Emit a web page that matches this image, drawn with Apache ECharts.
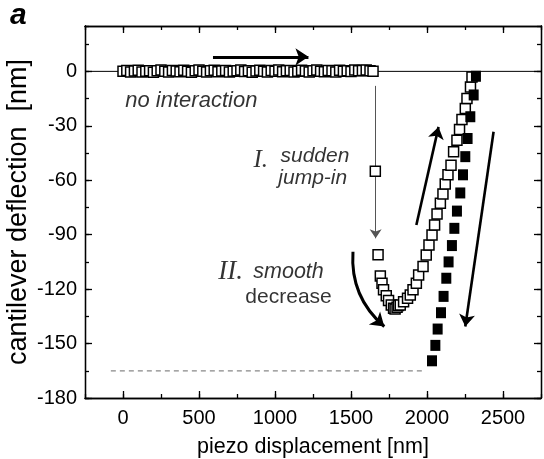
<!DOCTYPE html>
<html><head><meta charset="utf-8">
<script src="https://cdn.jsdelivr.net/npm/echarts@6/dist/echarts.min.js"></script>
<style>html,body{margin:0;padding:0;background:#fff}#c{width:544px;height:459px}</style>
</head><body><div id="c"></div>
<script>
// ---- data ----
const xRange = [-250, 2750];
const yRange = [-180, 25];
const xTickLabels = [0, 500, 1000, 1500, 2000, 2500];
const yTickLabels = [-180, -150, -120, -90, -60, -30, 0];

const approachFlatX = [0,25,50,75,100,125,150,175,200,225,250,275,300,325,350,375,400,425,450,475,500,525,550,575,600,625,650,675,700,725,750,775,800,825,850,875,900,925,950,975,1000,1025,1050,1075,1100,1125,1150,1175,1200,1225,1250,1275,1300,1325,1350,1375,1400,1425,1450,1475,1500,1525,1550,1575,1600,1625,1645];
const approachFlatY = [0,0.5,-0.4,0.2,0.6,-0.3,0,0.4,-0.5,0.3,0.7,0,-0.4,0.5,0.2,-0.2,0.6,0.1,-0.5,0.3,0.8,0,-0.3,0.4,0.6,-0.2,0.2,0.5,-0.4,0,0.3,0.7,-0.1,0.4,-0.5,0.2,0.6,0,-0.3,0.5,0.1,0.8,-0.2,0.3,0.5,-0.4,0,0.6,0.2,-0.3,0.4,0.7,0,-0.2,0.5,0.3,-0.4,0.6,0.1,0.4,-0.1,0.7,0.3,0.5,0.8,0.4,0];
const approachContactX = [1660,1678,1693,1704,1714,1732,1747,1765,1780,1790,1803,1812,1824,1846,1872,1890,1908,1930,1945,1974,1995,2013,2033,2050,2066,2088,2105,2120,2138,2158,2175,2197,2214,2230,2252,2263,2286,2296];
const approachContactY = [-55,-101,-112.7,-116.7,-120.4,-123.7,-126.3,-128.7,-130.5,-131,-130,-129,-128.7,-126.9,-125,-123.2,-120.4,-116.7,-112.2,-107.6,-101.2,-95.7,-90.2,-84.7,-78.6,-72.7,-67.6,-62.1,-57,-51.7,-44.3,-37.9,-32,-26.5,-20.5,-15,-8.6,-3.1];
const retractX = [2322,2307,2285,2267,2252,2237,2219,2197,2180,2164,2142,2127,2109,2092,2070,2055,2033];
const retractY = [-2.7,-13,-25,-37,-47,-57,-67,-77,-86.5,-96,-105,-114,-124,-133,-142,-151,-159.5];

const zeroLine = [[-250,0],[2750,0]];
const dashedLine = [[-80,-165],[1990,-165]];
const arrowTop = [[592,8],[1220,8]];
const arrowJump = [[1662,-8],[1662,-92]];
const arrowUp = [[1930,-84.7],[2076,-30.6]];
const arrowDown = [[2438,-33.3],[2252,-140.6]];
const arrowCurve = [[1513,-99.4],[1719,-140.6]];

const SANS = '"Liberation Sans", Arial, sans-serif';
const SERIF = '"Liberation Serif", "Times New Roman", serif';
const notes = [
  {text:'no interaction', x:15, y:-16, style:'italic', size:22, family:SANS},
  {text:'I.', x:858, y:-49, style:'italic', size:25, family:SERIF},
  {text:'sudden', x:1036, y:-46.5, style:'italic', size:21, family:SANS},
  {text:'jump-in', x:1022, y:-59, style:'italic', size:21, family:SANS},
  {text:'II.', x:627, y:-110.5, style:'italic', size:27, family:SERIF},
  {text:'smooth', x:857, y:-110.5, style:'italic', size:21.5, family:SANS},
  {text:'decrease', x:805, y:-124.5, style:'normal', size:21, family:SANS}
];

// ---- chart ----
const zip = (a, b) => a.map((v, i) => [v, b[i]]);
const chart = echarts.init(document.getElementById('c'), null, {renderer: 'canvas'});

function baseAxis(pos, range, major, tickVals, interval) {
  const o = {
    type: 'value', position: pos, min: range[0], max: range[1], interval: interval,
    splitLine: {show: false},
    axisLine: {show: true, onZero: false, lineStyle: {color: '#000', width: 1.3}},
    axisTick: {show: true, inside: true, length: major ? 7 : 4, lineStyle: {color: '#000', width: 1.3}},
    axisLabel: {show: false}
  };
  if (major) o.axisTick.customValues = tickVals;
  return o;
}
const xMain = baseAxis('bottom', xRange, true, xTickLabels, 250);
xMain.axisLabel = {show: true, customValues: xTickLabels, formatter: v => String(v), color: '#000', fontSize: 20, fontFamily: SANS, margin: 10};
xMain.name = 'piezo displacement [nm]';
xMain.nameLocation = 'middle';
xMain.nameGap = 38;
xMain.nameMoveOverlap = false;
xMain.nameTextStyle = {fontSize: 21.5, color: '#000', fontFamily: SANS};

const yMain = baseAxis('left', yRange, true, yTickLabels, 30);
yMain.axisLabel = {show: true, customValues: yTickLabels, formatter: v => String(v), color: '#000', fontSize: 20, fontFamily: SANS, margin: 8};
yMain.name = 'cantilever deflection  [nm]';
yMain.nameLocation = 'middle';
yMain.nameGap = 53;
yMain.nameMoveOverlap = false;
yMain.nameTextStyle = {fontSize: 27, color: '#000', fontFamily: SANS};

function arrowSeries(coords, width, color, size, curveness) {
  return {
    type: 'lines', coordinateSystem: 'cartesian2d', xAxisIndex: 0, yAxisIndex: 0,
    symbol: ['none', 'arrow'], symbolSize: size, silent: true, z: 3,
    lineStyle: {color: color, width: width, opacity: 1, curveness: curveness || 0},
    data: [{coords: coords}]
  };
}

const option = {
  animation: false,
  backgroundColor: '#fff',
  grid: {left: 85, right: 3, top: 26, bottom: 61, containLabel: false, outerBoundsMode: 'none'},
  graphic: [{type: 'text', left: 10, top: 1, style: {text: 'a', font: 'italic bold 30px "Liberation Sans", Arial, sans-serif', fill: '#000'}}],
  xAxis: [xMain, baseAxis('bottom', xRange, false, null, 250), baseAxis('top', xRange, true, xTickLabels, 250), baseAxis('top', xRange, false, null, 250)],
  yAxis: [yMain, baseAxis('left', yRange, false, null, 15), baseAxis('right', yRange, true, yTickLabels, 30), baseAxis('right', yRange, false, null, 15)],
  series: [
    {type: 'line', data: zeroLine, symbol: 'none', silent: true, z: 1, lineStyle: {color: '#000', width: 1}},
    {type: 'line', data: dashedLine, symbol: 'none', silent: true, z: 1, lineStyle: {color: '#888', width: 1.2, type: [5, 4]}},
    arrowSeries(arrowJump, 1, '#555', [0, 9], 0),
    arrowSeries(arrowTop, 3, '#000', [0, 13], 0),
    arrowSeries(arrowUp, 2.6, '#000', [0, 12], 0),
    arrowSeries(arrowDown, 2.6, '#000', [0, 12], 0),
    arrowSeries(arrowCurve, 3, '#000', [0, 13], -0.25),
    {type: 'scatter', symbol: 'rect', symbolSize: 10, silent: true, z: 4,
     itemStyle: {color: '#fff', borderColor: '#000', borderWidth: 1.5, opacity: 1},
     data: zip(approachFlatX, approachFlatY).concat(zip(approachContactX, approachContactY))},
    {type: 'scatter', symbol: 'rect', symbolSize: [10, 11], silent: true, z: 5,
     itemStyle: {color: '#000', opacity: 1},
     data: zip(retractX, retractY)},
    {type: 'scatter', symbolSize: 0, silent: true, z: 6,
     data: notes.map(n => ({value: [n.x, n.y], label: {show: true, position: 'right', distance: 0, formatter: n.text,
       fontStyle: n.style, fontSize: n.size, fontFamily: n.family, color: '#000'}}))}
  ]
};
chart.setOption(option);
</script></body></html>
